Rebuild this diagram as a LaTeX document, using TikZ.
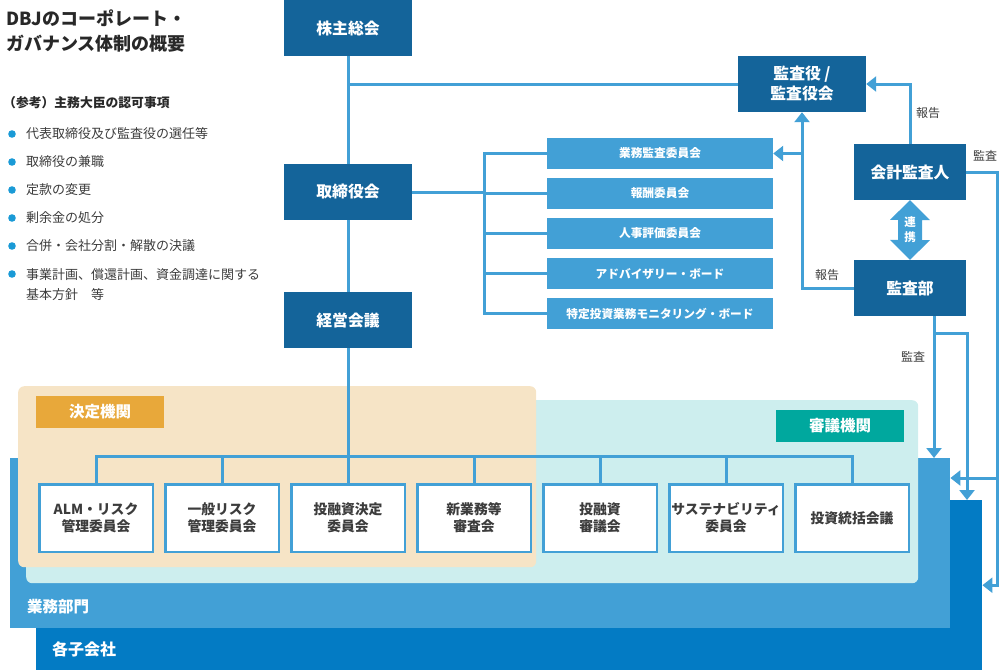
\documentclass[tikz,border=0pt]{standalone}
\usepackage{fontspec}
\setmainfont{Noto Sans CJK JP}
\usetikzlibrary{arrows.meta,positioning,calc}
\definecolor{DbjAzul}{RGB}{20,100,154}
\definecolor{DbjCeleste}{RGB}{66,160,214}
\definecolor{DbjFilial}{RGB}{3,123,196}
\definecolor{DbjBege}{RGB}{246,228,198}
\definecolor{DbjCiano}{RGB}{205,238,238}
\definecolor{DbjOuro}{RGB}{232,168,58}
\definecolor{DbjTeal}{RGB}{0,168,158}
\definecolor{DbjTexto}{RGB}{60,60,60}
\definecolor{DbjEscuro}{RGB}{40,40,40}
\definecolor{DbjPonto}{RGB}{26,154,214}
\tikzset{
  orgao/.style={fill=DbjAzul, text=white, font=\fontsize{15.8}{20}\selectfont\bfseries,
                align=center, inner sep=0pt, minimum height=56pt},
  comite/.style={fill=DbjCeleste, text=white, font=\fontsize{11.7}{13}\selectfont\bfseries,
                inner sep=0pt, minimum width=226pt, minimum height=31pt},
  conselho/.style={draw=DbjCeleste, line width=2.5pt, fill=white, text=DbjTexto,
                font=\fontsize{13.8}{17}\selectfont\bfseries, align=center, inner sep=0pt,
                minimum width=113.5pt, minimum height=67.5pt},
  area/.style={anchor=north west, inner sep=0pt},
  etiqueta/.style={text=white, font=\fontsize{15.5}{17}\selectfont\bfseries,
                inner sep=0pt, minimum width=128pt, minimum height=32pt},
  ligacao/.style={DbjCeleste, line width=3pt},
  seta/.style={ligacao, -{Triangle[width=15pt,length=10pt]}},
  rotulo/.style={font=\fontsize{12}{14}\selectfont, text=DbjTexto, inner sep=0pt},
  item/.style={font=\fontsize{13}{20}\selectfont, text=DbjTexto, anchor=west,
                inner sep=0pt, align=left},
}

\begin{document}
\begin{tikzpicture}[x=1pt, y=-1pt]
  \useasboundingbox (0,0) rectangle (1000,670);

  % Texto da esquerda
  \node[anchor=north west, inner sep=0pt, align=left, text=DbjEscuro,
        font=\fontsize{18}{25}\selectfont\bfseries] (titulo) at (6,10)
    {DBJのコーポレート・\\ガバナンス体制の概要};
  \node[item, font=\fontsize{12.8}{14}\selectfont\bfseries, text=DbjEscuro] (ref) at (3,103)
    {（参考）主務大臣の認可事項};
  \foreach \yy/\txt in {134/代表取締役及び監査役の選任等, 162/取締役の兼職, 190/定款の変更,
                        218/剰余金の処分, 246/合併・会社分割・解散の決議}{
    \fill[DbjPonto] (12,\yy) circle (3.8pt);
    \node[item] (item\yy) at (26,\yy) {\txt};
  }
  \fill[DbjPonto] (12,274) circle (3.8pt);
  \node[item, anchor=north west] (item274) at (26,268)
    {事業計画、償還計画、資金調達に関する\\基本方針　等};

  % Faixas de fundo
  \node[area, fill=DbjFilial, minimum width=946pt, minimum height=170pt] (kogaisha) at (36,500) {};
  \node[area, fill=DbjCeleste, minimum width=940pt, minimum height=170pt] (gyomu) at (10,458) {};
  \node[area, fill=DbjCiano, rounded corners=6pt, minimum width=892pt, minimum height=183pt] (shingi) at (26,400) {};
  \node[area, fill=DbjBege, rounded corners=6pt, minimum width=518pt, minimum height=181pt] (kettei) at (18,386) {};
  \node[etiqueta, fill=DbjOuro] (tagkettei) at (100,412) {決定機関};
  \node[etiqueta, fill=DbjTeal] (tagshingi) at (840,426) {審議機関};
  \node[anchor=west, inner sep=0pt, text=white, font=\fontsize{15.5}{18}\selectfont\bfseries]
    (lblgyomu) at (27,607) {業務部門};
  \node[anchor=west, inner sep=0pt, text=white, font=\fontsize{16}{18}\selectfont\bfseries]
    (lblkogaisha) at (52,649) {各子会社};

  % Orgaos principais
  \node[orgao, minimum width=128pt] (kabunushi)   at (348,28)  {株主総会};
  \node[orgao, minimum width=128pt] (torishimari) at (348,192) {取締役会};
  \node[orgao, minimum width=128pt] (keiei)       at (348,320) {経営会議};
  \node[orgao, minimum width=128pt] (kansayaku)   at (802,84)  {監査役 /\\監査役会};
  \node[orgao, minimum width=112pt] (kaikei)      at (910,172) {会計監査人};
  \node[orgao, minimum width=112pt] (kansabu)     at (910,288) {監査部};

  % Comites do conselho
  \foreach \i/\txt in {1/業務監査委員会, 2/報酬委員会, 3/人事評価委員会,
                       4/アドバイザリー・ボード, 5/特定投資業務モニタリング・ボード}{
    \node[comite] (iin\i) at (660,113.5+40*\i) {\txt};
  }

  % Conselhos sob o 経営会議
  \foreach \i/\txt in {1/ALM・リスク\\管理委員会, 2/一般リスク\\管理委員会, 3/投融資決定\\委員会,
                       4/新業務等\\審査会, 5/投融資\\審議会, 6/サステナビリティ\\委員会, 7/投資統括会議}{
    \node[conselho] (c\i) at (-30+126*\i,518) {\txt};
  }

  % Ligacoes
  \coordinate (juncao) at (kabunushi.south |- kansayaku.west);
  \coordinate (ramo) at (484,0);
  \coordinate (barra) at (0,456);
  \draw[ligacao] (kabunushi) -- (torishimari);
  \draw[ligacao] (torishimari) -- (keiei);
  \draw[ligacao] (juncao) -- (kansayaku.west);
  \draw[ligacao] (iin1.west) -- (iin1.west -| ramo) -- (iin5.west -| ramo) -- (iin5.west);
  \draw[ligacao] (torishimari.east) -- (torishimari.east -| ramo);
  \foreach \i in {2,3,4}{
    \draw[ligacao] (iin\i.west -| ramo) -- (iin\i.west);
  }
  \draw[ligacao] (keiei.south) -- (c3.north);
  \draw[ligacao] (c1.north) -- (c1.north |- barra) -- (c7.north |- barra) -- (c7.north);
  \foreach \i in {2,4,5,6}{
    \draw[ligacao] (c\i.north |- barra) -- (c\i.north);
  }

  % Auditoria
  \draw[seta] (kansabu.west) -| (kansayaku.south);
  \draw[seta] (kansayaku.south |- iin1.east) -- (iin1.east);
  \draw[seta] (kaikei.north) |- (kansayaku.east);
  \coordinate (d0) at (997,172);
  \coordinate (d1) at (997,478);
  \draw[seta] (kaikei.east) -- (d0) |- (kogaisha.east);
  \draw[seta] (d1) -- (d1 -| gyomu.east);
  \coordinate (a0) at ([xshift=24pt]kansabu.south);
  \coordinate (a1) at (934,333);
  \draw[seta] (a0) -- (a0 |- gyomu.north);
  \draw[seta] (a1) -| (kogaisha.north -| 967,0);
  \fill[DbjCeleste] (kaikei.south) -- ++(20,20) -- ++(-8,0) -- ++(0,20) -- ++(8,0)
    -- (kansabu.north) -- ++(-20,-20) -- ++(8,0) -- ++(0,-20) -- ++(-8,0) -- cycle;
  \node[text=white, align=center, inner sep=0pt, font=\fontsize{11.5}{15}\selectfont\bfseries]
    (renkei) at ($(kaikei.south)!0.5!(kansabu.north)$) {連\\携};

  \node[rotulo] (hokoku1) at (928,113) {報告};
  \node[rotulo] (hokoku2) at (827,275) {報告};
  \node[rotulo] (kansa1)  at (985,156) {監査};
  \node[rotulo] (kansa2)  at (913,357) {監査};
\end{tikzpicture}
\end{document}
